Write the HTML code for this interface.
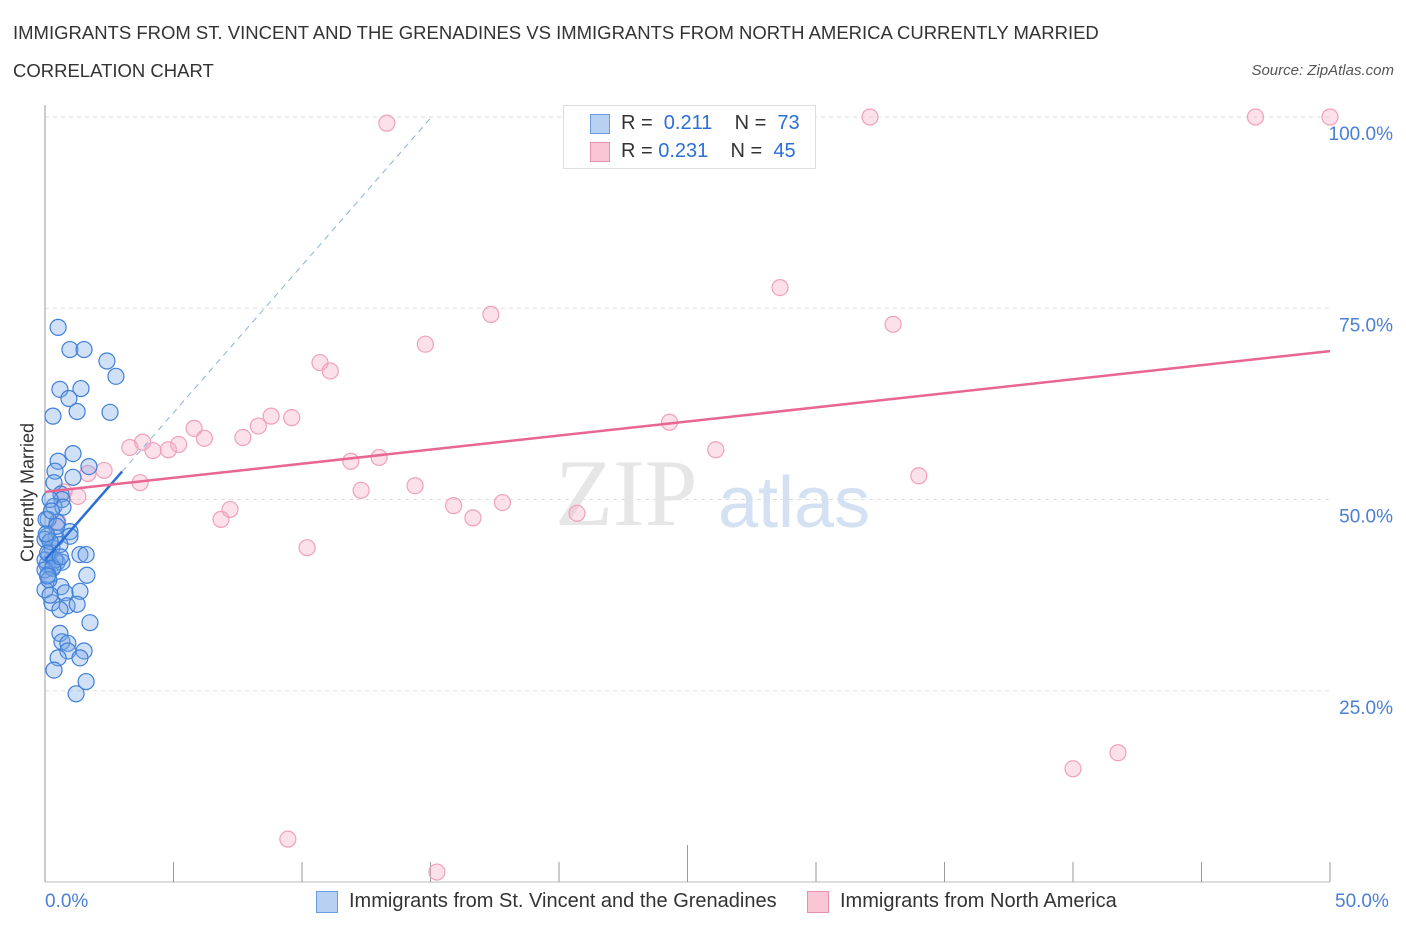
<!DOCTYPE html>
<html><head><meta charset="utf-8"><style>
body{margin:0;background:#fff;font-family:"Liberation Sans",sans-serif;}
#c{position:relative;width:1406px;height:930px;overflow:hidden}
.t{position:absolute;white-space:nowrap}
</style></head><body><div id="c">
<div class="t" style="left:13px;top:22px;font-size:18.5px;color:#333">IMMIGRANTS FROM ST. VINCENT AND THE GRENADINES VS IMMIGRANTS FROM NORTH AMERICA CURRENTLY MARRIED</div>
<div class="t" style="left:13px;top:60px;font-size:18.5px;color:#333">CORRELATION CHART</div>
<div class="t" style="right:12px;top:62px;font-size:15px;color:#555;font-style:italic">Source: ZipAtlas.com</div>
<svg id="s" width="1406" height="930" style="position:absolute;left:0;top:0"></svg>
</div>
<script>
const blueX=[0.51,0.97,1.52,2.41,2.76,0.58,1.40,0.93,1.25,2.53,0.31,1.09,0.51,1.71,0.39,1.09,0.35,0.62,0.66,0.35,0.70,0.47,0.12,0.97,0.08,0.43,0.97,0.27,1.36,1.60,0.16,0.47,0.66,0.08,0.31,1.63,0.12,0.62,0.78,1.36,0.27,0.86,1.25,0.58,1.75,0.58,0.66,0.89,1.52,0.89,0.51,1.36,0.35,1.60,1.21,0,0,0,0.39,0.2,0.58,0,0.04,0.2,0.1,0.3,0.45,0.15,0.25,0.05,0.6,0.2,0.1];
const blueY=[72.5,69.6,69.6,68.1,66.1,64.4,64.5,63.2,61.5,61.4,60.9,56.0,55.0,54.3,53.7,52.9,52.2,50.7,50.0,49.1,49.0,47.0,47.4,45.8,45.2,45.0,45.2,43.7,42.8,42.8,42.8,41.8,41.8,41.5,41.2,40.1,40.2,38.6,37.8,38.0,36.5,36.1,36.3,35.6,33.9,32.5,31.4,31.2,30.2,30.2,29.3,29.3,27.7,26.2,24.6,44.8,42.1,38.2,42.1,50.0,44.1,40.8,47.4,44.5,43.0,41.0,46.5,39.5,48.5,45.5,42.5,37.5,40.0];
const pinkX=[13.3,32.1,47.1,50.0,28.6,17.35,33.0,14.8,10.7,11.1,9.6,8.8,8.3,5.8,3.8,3.3,5.2,4.2,4.8,6.2,7.7,24.3,26.1,11.9,13.0,34.0,2.3,1.67,3.7,0.74,1.28,7.2,6.85,12.3,14.4,15.9,16.65,17.8,20.7,10.2,41.75,40.0,9.45,15.25,0.5];
const pinkY=[99.2,100,100,100,77.7,74.2,72.9,70.3,67.9,66.8,60.7,60.9,59.6,59.3,57.5,56.8,57.2,56.4,56.5,58.0,58.1,60.1,56.5,55.0,55.5,53.1,53.8,53.4,52.2,51.0,50.4,48.7,47.4,51.2,51.8,49.2,47.6,49.6,48.2,43.7,16.9,14.8,5.6,1.3,47.1];
const yTicks=[25,50,75,100];
const yTickLabels=["25.0%","50.0%","75.0%","100.0%"];
const xTicks=[0,5,10,15,20,25,30,35,40,45,50];
const blueTrend=[42.1,3.85];
const pinkTrend=[51.0,0.368];
const X=v=>45+v*25.7, Y=v=>882-v*7.65;
const s=document.getElementById('s'),NS='http://www.w3.org/2000/svg';
function mk(t,a,p){const e=document.createElementNS(NS,t);for(const k in a)e.setAttribute(k,a[k]);(p||s).appendChild(e);return e;}
yTicks.forEach((v,i)=>{
 const l=mk('line',{x1:45,x2:1330,y1:Y(v),y2:Y(v),stroke:'#ddd','stroke-dasharray':'4,4'});
 
 
 const t=mk('text',{x:1393,y:Y(v)+23,'text-anchor':'end','font-size':19,fill:'#4a7fd6','font-family':'Liberation Sans'});
 t.textContent=yTickLabels[i];
 
 
});
const ax=mk('line',{x1:45,x2:45,y1:105,y2:882,stroke:'#999'});


const bx=mk('line',{x1:45,x2:1330,y1:882,y2:882,stroke:'#bbb'});


xTicks.forEach(v=>{
 const l=mk('line',{x1:X(v),x2:X(v),y1:v==25?845:862,y2:882,stroke:'#999'});
 
 
});
const wm=mk('text',{x:555,y:525,'font-size':95,fill:'#e6e6e6','font-family':'Liberation Serif'});wm.textContent='ZIP';


const wm2=mk('text',{x:718,y:527,'font-size':72,fill:'#d3e1f3','font-family':'Liberation Sans'});wm2.textContent='atlas';


pinkX.forEach((x,i)=>{const c=mk('circle',{cx:X(x),cy:Y(pinkY[i]),r:8,fill:'rgba(246,170,195,0.35)',stroke:'#f0a0bb','stroke-width':1.2});
 
 });
blueX.forEach((x,i)=>{const c=mk('circle',{cx:X(x),cy:Y(blueY[i]),r:8,fill:'rgba(120,165,230,0.35)',stroke:'#3f7fd8','stroke-width':1.2});
 
 });
const xe=(100-blueTrend[0])/blueTrend[1];
const bd=mk('line',{x1:X(3),y1:Y(blueTrend[0]+3*blueTrend[1]),x2:X(xe),y2:Y(100),stroke:'#8ab0e0','stroke-dasharray':'6,5','stroke-width':1});


const bt=mk('line',{x1:X(0),y1:Y(blueTrend[0]),x2:X(3),y2:Y(blueTrend[0]+3*blueTrend[1]),stroke:'#2b6fd6','stroke-width':2.5});


const pt=mk('line',{x1:X(0),y1:Y(pinkTrend[0]),x2:X(50),y2:Y(pinkTrend[0]+50*pinkTrend[1]),stroke:'#e8668f','stroke-width':2.5});


</script>
<div class="t" style="left:-42px;top:482px;font-size:18px;color:#333;transform:rotate(-90deg);width:140px;text-align:center">Currently Married</div>
<div class="t" style="left:45px;top:891px;font-size:19px;color:#4a7fd6">0.0%</div>
<div class="t" style="left:1335px;top:891px;font-size:19px;color:#4a7fd6">50.0%</div>
<div style="position:absolute;left:563px;top:105px;width:251px;height:62px;border:1px solid #ddd;background:#fff;font-size:20px;color:#333">
 <div style="position:absolute;left:26px;top:8px;width:18px;height:18px;background:#b8d0f2;border:1px solid #6a9ee0"></div>
 <div class="t" style="left:57px;top:6px">R = <span style="color:#2b6fd6">&nbsp;0.211</span>&nbsp;&nbsp;&nbsp; N = <span style="color:#2b6fd6">&nbsp;73</span></div>
 <div style="position:absolute;left:26px;top:36px;width:18px;height:18px;background:#f8c6d5;border:1px solid #e890ab"></div>
 <div class="t" style="left:57px;top:34px">R = <span style="color:#2b6fd6">0.231</span>&nbsp;&nbsp;&nbsp; N = <span style="color:#2b6fd6">&nbsp;45</span></div>
</div>
<div style="position:absolute;left:316px;top:890px;font-size:20px;color:#333">
 <div style="position:absolute;left:0;top:1px;width:20px;height:20px;background:#b8d0f2;border:1px solid #6a9ee0"></div>
 <div class="t" style="left:33px;top:0">Immigrants from St. Vincent and the Grenadines</div></div>
<div style="position:absolute;left:807px;top:890px;font-size:20px;color:#333">
 <div style="position:absolute;left:0;top:1px;width:20px;height:20px;background:#f8c6d5;border:1px solid #e890ab"></div>
 <div class="t" style="left:33px;top:0">Immigrants from North America</div></div>
</body></html>
